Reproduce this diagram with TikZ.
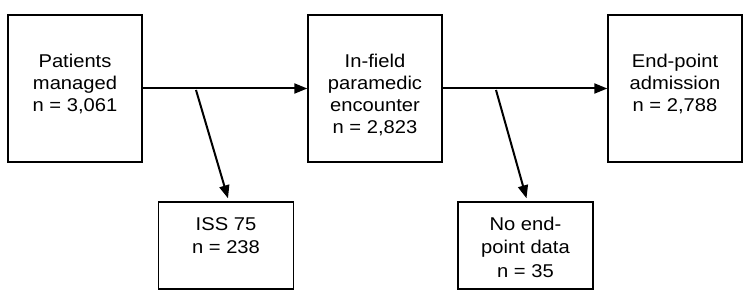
\documentclass[tikz,border=0pt]{standalone}
\usepackage{fontspec}
\setmainfont{Liberation Sans}[FakeStretch=1.09]
\usetikzlibrary{arrows.meta}

\tikzset{
  stagebox/.style={draw, line width=1.4pt, minimum width=134pt, minimum height=147pt, inner sep=0pt},
  dropbox/.style={draw, line width=1.4pt, minimum width=135pt, minimum height=87pt, inner sep=0pt},
  boxtext/.style={align=center, inner sep=0pt, anchor=north, font=\fontsize{18.5}{#1}\selectfont},
  boxtext/.default=21.7,
  flow/.style={line width=2pt, -{Triangle[length=13pt, width=10pt]}},
}

\begin{document}
\begin{tikzpicture}[x=1pt, y=-1pt]
  \useasboundingbox (0,0) rectangle (751,296);

  % boxes
  \node[stagebox] (pm) at (75,88.5) {};
  \node[stagebox] (pf) at (375,88.5) {};
  \node[stagebox] (ea) at (675,88.5) {};
  \node[dropbox]  (iss) at (226,245.5) {};
  \node[dropbox]  (nd)  at (525.5,245.5) {};

  % texts
  \node[boxtext] (pmt)  at ([yshift=-40pt]pm.north)  {Patients\\managed\\n = 3,061};
  \node[boxtext] (pft)  at ([yshift=-40pt]pf.north)  {In-field\\paramedic\\encounter\\n = 2,823};
  \node[boxtext] (eat)  at ([yshift=-40pt]ea.north)  {End-point\\admission\\n = 2,788};
  \node[boxtext=23.5] (isst) at ([yshift=-16pt]iss.north) {ISS 75\\n = 238};
  \node[boxtext=23.5] (ndt)  at ([yshift=-15.5pt]nd.north)  {No end-\\point data\\n = 35};

  \coordinate (b1) at (196,90);
  \coordinate (b2) at (496,90);

  \draw[flow] (pm.east) -- (pf.west);
  \draw[flow] (pf.east) -- (ea.west);
  \draw[flow] (b1) -- ([xshift=2pt,yshift=3pt]iss.north);
  \draw[flow] (b2) -- ([xshift=1pt,yshift=3pt]nd.north);
\end{tikzpicture}
\end{document}
